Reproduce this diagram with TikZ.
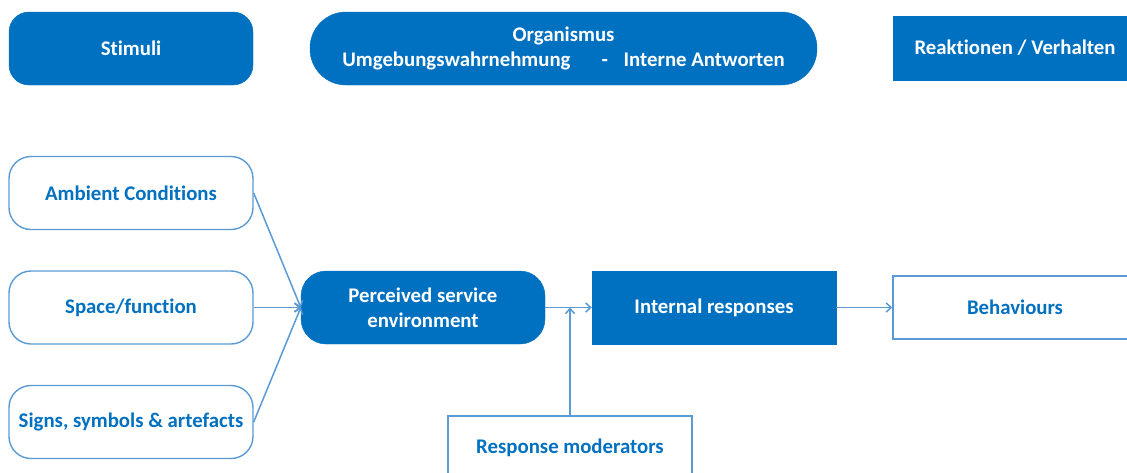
\documentclass[tikz,border=0pt]{standalone}
\usepackage{fontspec}
\setmainfont{Carlito}[Ligatures=NoCommon]
\usepackage{xcolor}
\usepackage{tikz}
\usetikzlibrary{arrows.meta}
\definecolor{boxblue}{HTML}{0070C0}
\definecolor{lineblue}{HTML}{5B9BD5}

\begin{document}
\begin{tikzpicture}
                            [x=1pt, y=-1pt,
                            font = \fontsize{20.8}{25}\selectfont\bfseries,
                            >={Straight Barb[length=5pt,width=9pt]},
                            full/.style = {fill=boxblue,
                                        draw=boxblue,
                                        text=white,
                                        align=center,
                                        minimum width = 244pt,
                                        minimum height = 73pt},
                            empty/.style = {fill=white,
                                        draw=lineblue,
                                        line width=1.4pt,
                                        text=boxblue,
                                        align=center,
                                        minimum width = 244pt,
                                        minimum height = 73pt},
                            link/.style = {draw=lineblue,
                                        line width=1.5pt}]
                            \clip (0,0) rectangle (1127,472);
                            \fill[white] (0,0) rectangle (1127,472);
                            % Kopfzeile
                            \node[full,rounded corners=20pt] (stimuli) at (131,48.5) {Stimuli};
                            \node[full,rounded corners=36pt,minimum width=507pt] (organismus) at (563.5,48.5)
                                {Organismus\\Umgebungswahrnehmung\hspace{1.5em}-\hspace{0.75em}Interne Antworten};
                            \node[full,minimum height=64pt] (reaktionen) at (1015,48) {Reaktionen / Verhalten};
                            % Stimuli
                            \node[empty,rounded corners=22pt] (ambient) at (131,193) {Ambient Conditions};
                            \node[empty,rounded corners=22pt] (space) at (131,307.5) {Space/function};
                            \node[empty,rounded corners=22pt] (signs) at (131,422) {Signs, symbols \& artefacts};
                            % Organismus
                            \node[full,rounded corners=25pt] (perceived) at (423,307.5)
                                {Perceived service\\environment};
                            \node[full] (internal) at (714,307.5) {Internal responses};
                            \node[empty,minimum height=64pt] (moderators) at (570,448) {Response moderators};
                            % Verhalten
                            \node[empty,minimum height=63pt] (behaviours) at (1015,307.5) {Behaviours};
                            % Pfeile
                            \draw[link,->] (ambient.east) -- (perceived.west);
                            \draw[link,->] (space.east) -- (perceived.west);
                            \draw[link,->] (signs.east) -- (perceived.west);
                            \draw[link,->] (perceived.east) -- (internal.west);
                            \draw[link,->] (moderators.north) -- (moderators.north |- perceived.east);
                            \draw[link,->] (internal.east) -- (behaviours.west);
                        \end{tikzpicture}
\end{document}
